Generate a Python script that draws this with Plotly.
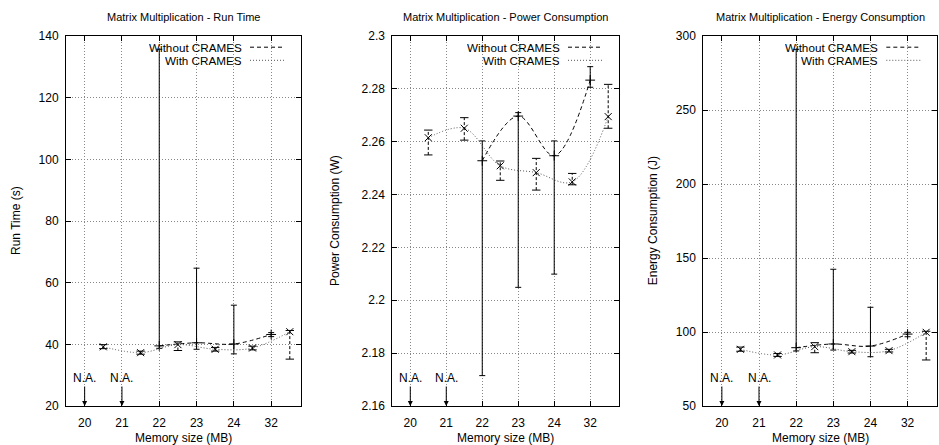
import plotly.graph_objects as go

W, H = 939, 445

mem_sizes = ["20", "21", "22", "23", "24", "32"]

# Run time (s)
rt_without = [None, None, 39.5, 40.5, 40.1, 43.2]
rt_without_lo = [None, None, 38.7, 38.4, 36.9, 42.5]
rt_without_hi = [None, None, 135.7, 64.7, 52.7, 43.8]
rt_with = [39.2, 37.3, 39.9, 38.4, 38.8, 44.1]
rt_with_lo = [38.6, 36.8, 38.0, 37.8, 38.2, 35.2]
rt_with_hi = [39.9, 37.8, 40.8, 39.0, 39.4, 44.5]

# Power consumption (W)
pw_without = [None, None, 2.2528, 2.2697, 2.2547, 2.2833]
pw_without_lo = [None, None, 2.1715, 2.2049, 2.2099, 2.2806]
pw_without_hi = [None, None, 2.2603, 2.2710, 2.2603, 2.2884]
pw_with = [2.2615, 2.2651, 2.2509, 2.2483, 2.2448, 2.2695]
pw_with_lo = [2.2550, 2.2606, 2.2454, 2.2417, 2.2437, 2.2651]
pw_with_hi = [2.2644, 2.2691, 2.2527, 2.2537, 2.2480, 2.2817]

# Energy consumption (J)
en_without = [None, None, 89.4, 91.9, 90.5, 98.6]
en_without_lo = [None, None, 87.2, 87.8, 83.3, 96.8]
en_without_hi = [None, None, 291.0, 142.4, 116.7, 99.8]
en_with = [88.3, 84.5, 90.1, 86.7, 87.4, 99.8]
en_with_lo = [87.0, 83.5, 86.0, 85.8, 86.5, 81.1]
en_with_hi = [89.8, 85.5, 92.8, 87.6, 88.3, 100.5]

rt_ticks = [20, 40, 60, 80, 100, 120, 140]
pw_ticks = [2.16, 2.18, 2.20, 2.22, 2.24, 2.26, 2.28, 2.30]
pw_ticktext = ["2.16", "2.18", "2.2", "2.22", "2.24", "2.26", "2.28", "2.3"]
en_ticks = [50, 100, 150, 200, 250, 300]

titles = ["Matrix Multiplication - Run Time",
          "Matrix Multiplication - Power Consumption",
          "Matrix Multiplication - Energy Consumption"]
ytitles = ["Run Time (s)", "Power Consumption (W)", "Energy Consumption (J)"]
xtitle = "Memory size (MB)"
legend_labels = ["Without CRAMES", "With CRAMES"]
na_label = "N.A."

FONT = "Liberation Sans, Arial, Helvetica, sans-serif"

# panel geometry (pixels)
panels_px = [(66, 301), (392.3, 619), (703.3, 937.3)]
ytitle_px = [16, 335, 653.3]
top_px, bot_px = 36, 406

x_idx = list(range(len(mem_sizes)))
x_with = [i + 0.5 for i in x_idx]

datasets = [
    (rt_without, rt_without_lo, rt_without_hi, rt_with, rt_with_lo, rt_with_hi,
     [20, 140], rt_ticks, [str(t) for t in rt_ticks]),
    (pw_without, pw_without_lo, pw_without_hi, pw_with, pw_with_lo, pw_with_hi,
     [2.16, 2.30], pw_ticks, pw_ticktext),
    (en_without, en_without_lo, en_without_hi, en_with, en_with_lo, en_with_hi,
     [50, 300], en_ticks, [str(t) for t in en_ticks]),
]

fig = go.Figure()
annotations = []
shapes = []

for k, (wo, wo_lo, wo_hi, wi, wi_lo, wi_hi, yr, ytv, ytt) in enumerate(datasets):
    xa = "x" if k == 0 else f"x{k+1}"
    ya = "y" if k == 0 else f"y{k+1}"

    # Without CRAMES: dashed spline + solid error bars
    err_p = [None if v is None else h - v for v, h in zip(wo, wo_hi)]
    err_m = [None if v is None else v - l for v, l in zip(wo, wo_lo)]
    fig.add_trace(go.Scatter(
        x=x_idx, y=wo, xaxis=xa, yaxis=ya, mode="lines+markers",
        line=dict(color="black", width=1, dash="4px,3px", shape="spline", smoothing=1.0),
        marker=dict(symbol="cross-thin", size=7, line=dict(color="black", width=1)),
        error_y=dict(type="data", array=err_p, arrayminus=err_m, symmetric=False,
                     color="black", thickness=1, width=3),
        showlegend=False, hoverinfo="skip"))

    # With CRAMES: dashed error bars
    ex, ey = [], []
    for x, lo, hi in zip(x_with, wi_lo, wi_hi):
        ex += [x, x, None]
        ey += [lo, hi, None]
    fig.add_trace(go.Scatter(
        x=ex, y=ey, xaxis=xa, yaxis=ya, mode="lines",
        line=dict(color="black", width=1, dash="3px,2px"),
        showlegend=False, hoverinfo="skip"))
    fig.add_trace(go.Scatter(
        x=x_with + x_with, y=wi_lo + wi_hi, xaxis=xa, yaxis=ya, mode="markers",
        marker=dict(symbol="line-ew", size=6, line=dict(color="black", width=1)),
        showlegend=False, hoverinfo="skip"))
    # With CRAMES: dotted spline
    fig.add_trace(go.Scatter(
        x=x_with, y=wi, xaxis=xa, yaxis=ya, mode="lines+markers",
        line=dict(color="#555555", width=1, dash="1px,2px", shape="spline", smoothing=1.0),
        marker=dict(symbol="x-thin", size=7, color="black", line=dict(color="black", width=1)),
        showlegend=False, hoverinfo="skip"))

    x0p, x1p = panels_px[k]
    dom_x = [x0p / W, x1p / W]
    dom_y = [1 - bot_px / H, 1 - top_px / H]
    axis_common = dict(showgrid=True, gridcolor="#888888", griddash="1px,2px", gridwidth=1,
                       showline=True, linecolor="black", linewidth=1, mirror="ticks",
                       ticks="inside", ticklen=5, tickcolor="black", zeroline=False,
                       automargin=False,
                       tickfont=dict(size=12, color="black", family=FONT))
    fig.layout[("xaxis" if k == 0 else f"xaxis{k+1}")] = dict(
        axis_common, domain=dom_x, anchor=ya, range=[-0.5, 5.8],
        tickvals=x_idx, ticktext=mem_sizes, ticklabelstandoff=6)
    fig.layout[("yaxis" if k == 0 else f"yaxis{k+1}")] = dict(
        axis_common, domain=dom_y, anchor=xa, range=yr,
        tickvals=ytv, ticktext=ytt, ticklabelstandoff=4)

    cx = (x0p + x1p) / 2
    annotations.append(dict(text=titles[k], x=cx / W, y=1 - 17 / H, xref="paper", yref="paper",
                            showarrow=False, xanchor="center", yanchor="middle",
                            font=dict(size=11, color="black", family=FONT)))
    annotations.append(dict(text=xtitle, x=cx / W, y=1 - 438 / H, xref="paper",
                            yref="paper", showarrow=False, xanchor="center", yanchor="middle",
                            font=dict(size=12, color="black", family=FONT)))
    annotations.append(dict(text=ytitles[k], x=ytitle_px[k] / W, y=1 - 221 / H, xref="paper",
                            yref="paper", showarrow=False, textangle=-90, xanchor="center",
                            yanchor="middle", font=dict(size=12, color="black", family=FONT)))
    # N.A. markers
    for i, v in enumerate(wo):
        if v is None:
            annotations.append(dict(text=na_label, x=x_idx[i], y=yr[0], xref=xa, yref=ya,
                                    showarrow=True, ax=0, ay=-28, arrowhead=2, arrowsize=1,
                                    arrowwidth=1, arrowcolor="black", standoff=0,
                                    font=dict(size=12, color="black", family=FONT)))
    # Legend
    rows = [47.2, 60.3]
    dashes = ["4px,3px", "1px,2px"]
    colors = ["black", "#555555"]
    for j in range(2):
        annotations.append(dict(text=legend_labels[j], x=(x1p - 58) / W, y=1 - rows[j] / H,
                                xref="paper", yref="paper", showarrow=False, xanchor="right",
                                yanchor="middle", height=12, borderpad=0,
                                font=dict(size=11.7, color="black", family=FONT)))
        shapes.append(dict(type="line", xref="paper", yref="paper",
                           x0=(x1p - 51) / W, x1=(x1p - 17) / W,
                           y0=1 - rows[j] / H, y1=1 - rows[j] / H,
                           line=dict(color=colors[j], width=1, dash=dashes[j])))

fig.update_layout(width=W, height=H, margin=dict(l=0, r=0, t=0, b=0, autoexpand=False),
                  paper_bgcolor="white", plot_bgcolor="white",
                  annotations=annotations, shapes=shapes,
                  font=dict(family=FONT, color="black"), showlegend=False)

fig.write_html("out.html", config={"responsive": False, "displayModeBar": False},
               post_script="document.body.style.margin='0';document.body.style.overflow='hidden';")
